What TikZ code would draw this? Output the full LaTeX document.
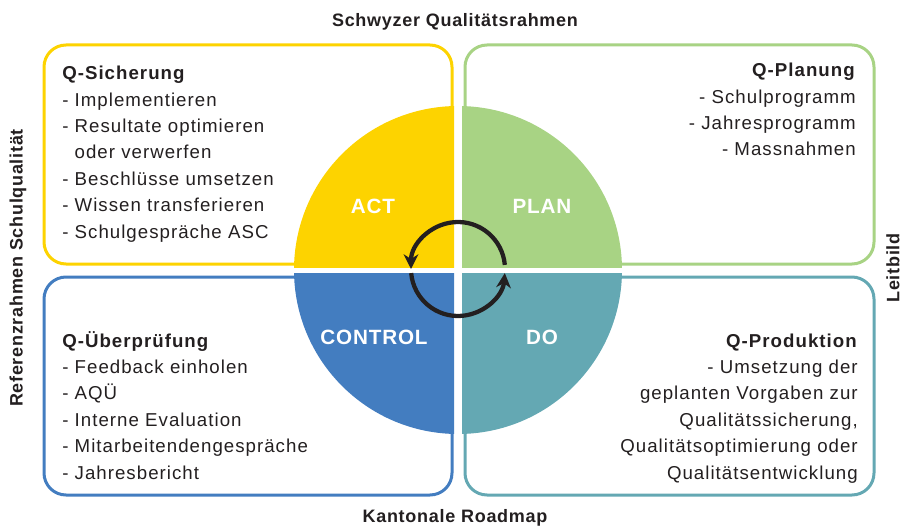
\documentclass[tikz,border=0pt]{standalone}
\usepackage{fontspec}
\setmainfont[LetterSpace=4]{Liberation Sans}
\newfontfamily\boxfont[LetterSpace=5.5]{Liberation Sans}
\usetikzlibrary{arrows, arrows.meta}
\usepackage{xcolor}
\definecolor{gelb}{RGB}{253,211,0}
\definecolor{gruen}{RGB}{168,211,132}
\definecolor{blau}{RGB}{67,125,192}
\definecolor{petrol}{RGB}{100,168,179}
\definecolor{schrift}{RGB}{35,31,32}
\tikzset{
  qbox/.style={line width=2.25pt, rounded corners=16.5pt},
  qtext/.style={inner sep=0pt, text=schrift, font=\boxfont\fontsize{14}{19.8}\selectfont},
  quadlabel/.style={text=white, font=\fontsize{15.5}{18}\selectfont\bfseries},
  rand/.style={text=schrift, font=\fontsize{13.5}{16}\selectfont\bfseries},
  zyklus/.style={-{Stealth[length=11pt,width=11pt,inset=3.5pt]}, line width=3.2pt, draw=schrift}
}

\begin{document}
\begin{tikzpicture}[x=0.75pt, y=0.75pt]
		\useasboundingbox (0,0) rectangle (907,526);
		% boxes
		\draw[qbox, gelb] (44,262) rectangle (452,481);
		\draw[qbox, gruen] (465,262) rectangle (874,481);
		\draw[qbox, blau] (44,31) rectangle (452,249);
		\draw[qbox, petrol] (465,31) rectangle (874,249);
		% circle quadrants
		\coordinate (kreis) at (458,256);
		\scope
			\clip (290,259) rectangle (454,425);
			\fill[gelb] (kreis) circle (164);
		\endscope
		\scope
			\clip (462,259) rectangle (626,425);
			\fill[gruen] (kreis) circle (164);
		\endscope
		\scope
			\clip (290,87) rectangle (454,253);
			\fill[blau] (kreis) circle (164);
		\endscope
		\scope
			\clip (462,87) rectangle (626,253);
			\fill[petrol] (kreis) circle (164);
		\endscope
		\node[quadlabel] (act) at (373,320) {ACT};
		\node[quadlabel] (plan) at (542,320) {PLAN};
		\node[quadlabel] (control) at (374,189) {CONTROL};
		\node[quadlabel] (do) at (542,189) {DO};
		% cycle arrows
		\coordinate (mitte) at (458,257);
		\draw[zyklus] (mitte) ++(5:47) arc (5:180:47);
		\draw[zyklus] (mitte) ++(185:47) arc (185:355:47);
		% box texts (anchored at the last line)
		\node[qtext, align=left, anchor=base west] (sicherung) at (62,288)
		      {\textbf{Q-Sicherung}\\- Implementieren\\- Resultate optimieren\\\phantom{-} oder verwerfen\\- Beschlüsse umsetzen\\- Wissen transferieren\\- Schulgespräche ASC};
		\node[qtext, align=right, anchor=base east] (planung) at (856,370)
		      {\textbf{Q-Planung}\\- Schulprogramm\\- Jahresprogramm\\- Massnahmen};
		\node[qtext, align=left, anchor=base west] (pruefung) at (62,47)
		      {\textbf{Q-Überprüfung}\\- Feedback einholen\\- AQÜ\\- Interne Evaluation\\- Mitarbeitendengespräche\\- Jahresbericht};
		\node[qtext, align=right, anchor=base east] (produktion) at (858,47)
		      {\textbf{Q-Produktion}\\- Umsetzung der\\geplanten Vorgaben zur\\Qualitätssicherung,\\Qualitätsoptimierung oder\\Qualitätsentwicklung};
		% outer labels
		\node[rand] (rahmen) at (455,504) {Schwyzer Qualitätsrahmen};
		\node[rand] (roadmap) at (455,8) {Kantonale Roadmap};
		\node[rand, rotate=90] (referenz) at (18,258) {Referenzrahmen Schulqualität};
		\node[rand, rotate=90] (leitbild) at (893,258) {Leitbild};
	\end{tikzpicture}
\end{document}
